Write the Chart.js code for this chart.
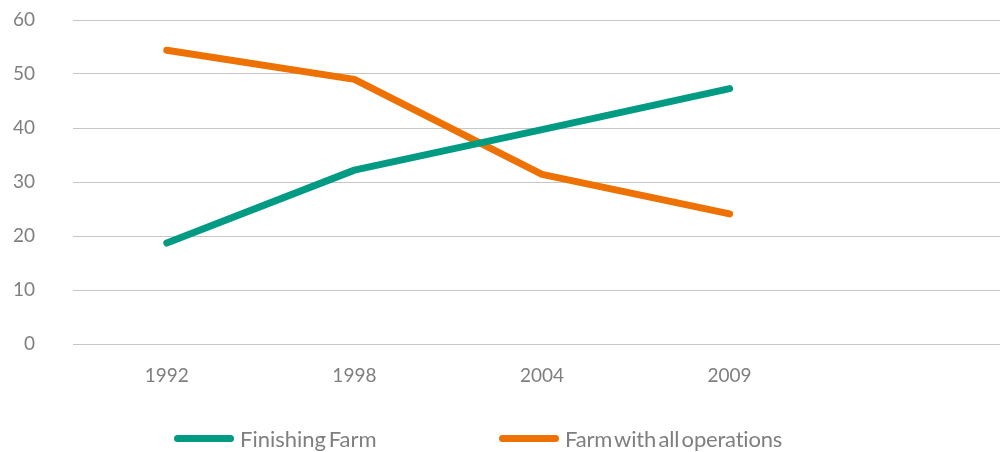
<!DOCTYPE html>
<html>
<head>
<meta charset="utf-8">
<script src="https://cdn.jsdelivr.net/npm/chart.js@4"></script>
<style>
  html, body { margin: 0; padding: 0; background: #fff; overflow: hidden; }
  #wrap { position: relative; width: 1011px; height: 452px; }
  .legend { position: absolute; top: 424px; height: 28px; font-family: Lato, sans-serif; font-size: 22px; word-spacing: -3px; color: #7f7f7f; display: flex; align-items: center; white-space: nowrap; }
  .legend .sw { width: 60px; height: 7px; border-radius: 4px; margin-right: 6px; }
</style>
</head>
<body>
<div id="wrap">
  <canvas id="chart" width="1011" height="452"></canvas>
  <div class="legend" style="left:174px"><span class="sw" style="background:#009b82"></span>Finishing Farm</div>
  <div class="legend" style="left:499px;letter-spacing:-0.2px"><span class="sw" style="background:#ee7203"></span>Farm with all operations</div>
</div>
<script>
// donnees
const years = ['1992', '1998', '2004', '2009', ''];
const finishingFarm = [18.7, 32.2, 39.7, 47.3, null];
const allOperations = [54.4, 49.0, 31.4, 24.1, null];
const yTicks = [0, 10, 20, 30, 40, 50, 60];

const grey = '#7f7f7f';

let ctx = document.getElementById('chart').getContext('2d');

let config = {
    type: 'line',
    data: {
        labels: years,
        datasets: [{
            label: 'Finishing Farm',
            data: finishingFarm,
            borderColor: '#009b82',
            backgroundColor: '#009b82',
            borderWidth: 7,
            borderCapStyle: 'round',
            borderJoinStyle: 'round',
            pointRadius: 0,
            tension: 0
        }, {
            label: 'Farm with all operations',
            data: allOperations,
            borderColor: '#ee7203',
            backgroundColor: '#ee7203',
            borderWidth: 7,
            borderCapStyle: 'round',
            borderJoinStyle: 'round',
            pointRadius: 0,
            tension: 0
        }]
    },
    options: {
        responsive: false,
        animation: false,
        layout: {
            padding: {left: 0, right: 0, top: 20, bottom: 0}
        },
        plugins: {
            legend: {display: false},
            tooltip: {enabled: false}
        },
        scales: {
            x: {
                offset: true,
                grid: {display: false, drawTicks: false},
                border: {display: false},
                ticks: {
                    color: grey,
                    font: {family: 'Lato', size: 19},
                    padding: 20,
                    maxRotation: 0
                },
                afterFit: function(scale) {
                    scale.height = 108;
                }
            },
            y: {
                min: yTicks[0],
                max: yTicks[yTicks.length - 1],
                afterBuildTicks: function(axis) {
                    axis.ticks = yTicks.map(v => ({value: v}));
                },
                grid: {color: '#c6c6c6', lineWidth: 1, drawTicks: false},
                border: {display: false},
                ticks: {
                    color: grey,
                    font: {family: 'Lato', size: 19},
                    padding: 38
                },
                afterFit: function(scale) {
                    // la marge des ticks ne doit pas pousser le haut du graphe
                    scale.width = 73;
                    scale.paddingTop = 12;
                    scale.paddingBottom = 0;
                }
            }
        }
    }
};

let chart = new Chart(ctx, config);
</script>
</body>
</html>
